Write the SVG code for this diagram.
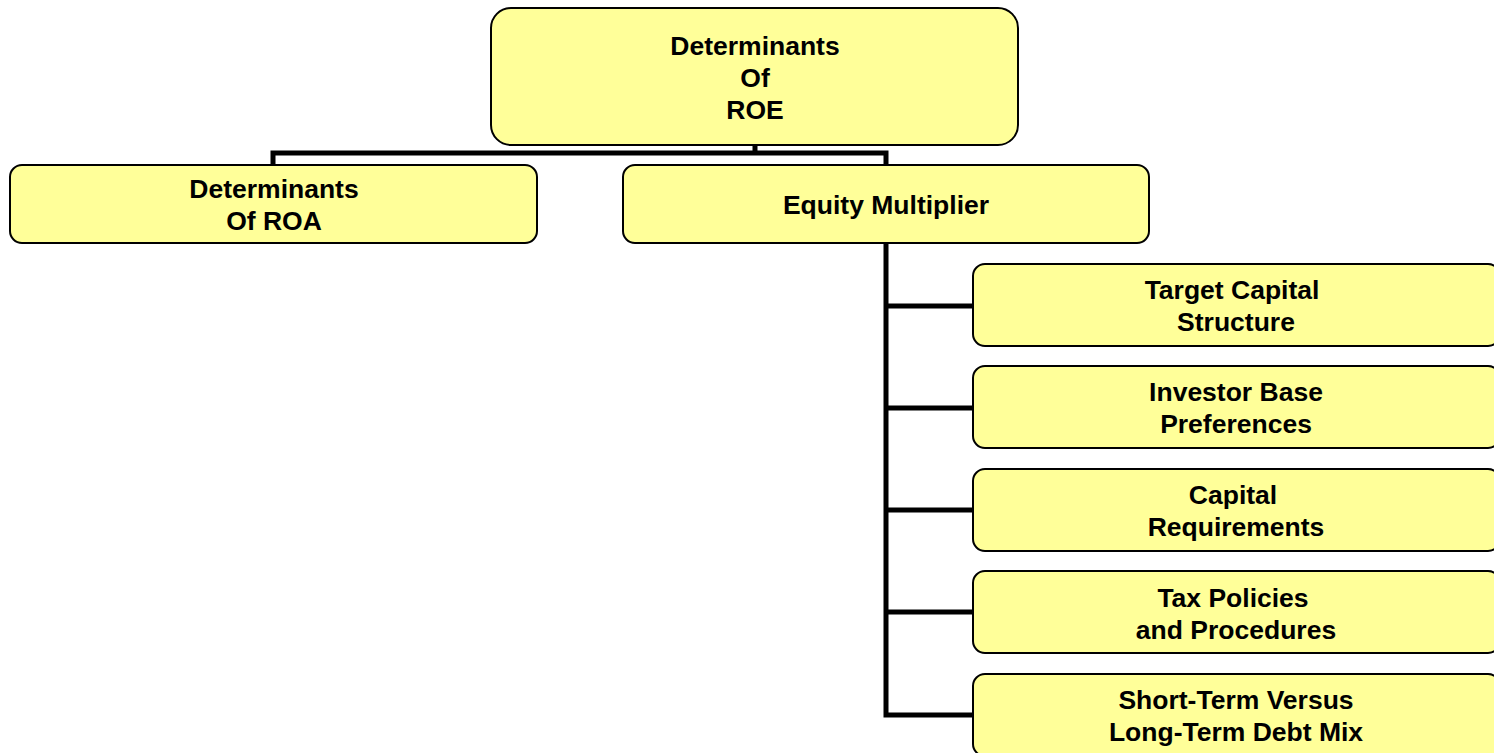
<svg xmlns="http://www.w3.org/2000/svg" width="1494" height="753" viewBox="0 0 1494 753">
<style>
.box{fill:#FFFF99;stroke:#000;stroke-width:2}
.t{font-family:"Liberation Sans",Arial,sans-serif;font-weight:bold;font-size:26.5px;text-anchor:middle;fill:#000}
.c{fill:none;stroke:#000;stroke-width:5;stroke-linejoin:miter}
</style>
<rect width="1494" height="753" fill="#fff"/>
<g id="connectors">
<path class="c" d="M755,145 V153 M273,165 V153 H886 V165"/>
<path class="c" d="M886,243 V715 H973 M886,306 H973 M886,408 H973 M886,510 H973 M886,612 H973"/>
</g>
<g id="roe">
<rect class="box" x="491" y="8" width="527" height="137" rx="20"/>
<text class="t" x="755" y="55">Determinants</text>
<text class="t" x="755" y="87">Of</text>
<text class="t" x="755" y="119">ROE</text>
</g>
<g id="roa">
<rect class="box" x="10" y="165" width="527" height="78" rx="12"/>
<text class="t" x="274" y="198">Determinants</text>
<text class="t" x="274" y="230">Of ROA</text>
</g>
<g id="equity">
<rect class="box" x="623" y="165" width="526" height="78" rx="12"/>
<text class="t" x="886" y="214">Equity Multiplier</text>
</g>
<g id="target">
<rect class="box" x="973" y="264" width="527" height="82" rx="12"/>
<text class="t" x="1232" y="299">Target Capital</text>
<text class="t" x="1236" y="331">Structure</text>
</g>
<g id="investor">
<rect class="box" x="973" y="366" width="527" height="82" rx="12"/>
<text class="t" x="1236" y="401">Investor Base</text>
<text class="t" x="1236" y="433">Preferences</text>
</g>
<g id="capreq">
<rect class="box" x="973" y="469" width="527" height="82" rx="12"/>
<text class="t" x="1233" y="504">Capital</text>
<text class="t" x="1236" y="536">Requirements</text>
</g>
<g id="tax">
<rect class="box" x="973" y="571" width="527" height="82" rx="12"/>
<text class="t" x="1233" y="607">Tax Policies</text>
<text class="t" x="1236" y="639">and Procedures</text>
</g>
<g id="debtmix">
<rect class="box" x="973" y="674" width="527" height="82" rx="12"/>
<text class="t" x="1236" y="709">Short-Term Versus</text>
<text class="t" x="1236" y="741">Long-Term Debt Mix</text>
</g>
</svg>
